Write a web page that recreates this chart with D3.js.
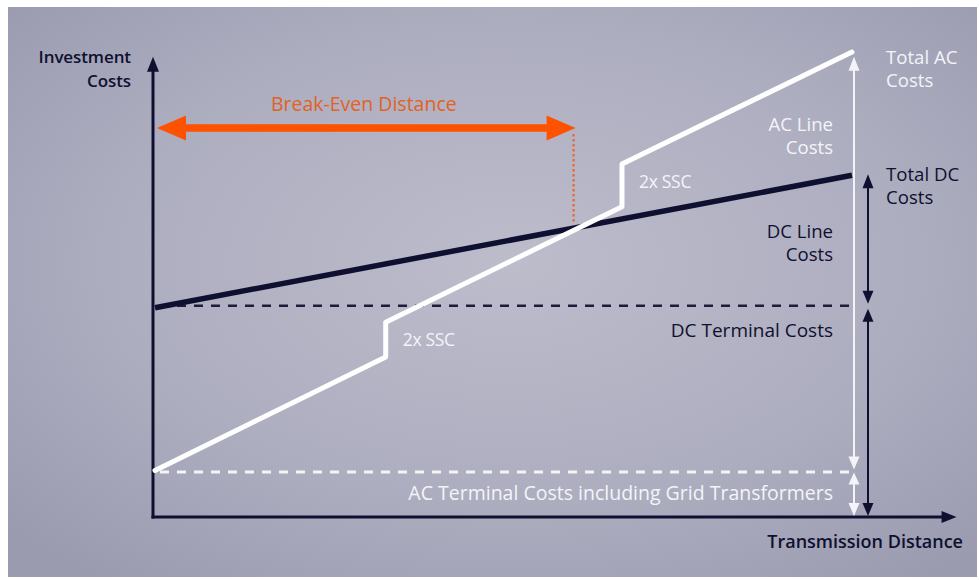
<!DOCTYPE html>
<html>
<head>
<meta charset="utf-8">
<script src="https://cdn.jsdelivr.net/npm/d3@7"></script>
<style>
  html, body { margin: 0; padding: 0; background: #ffffff; }
  svg { display: block; }
  text { font-family: "Open Sans", "DejaVu Sans", sans-serif; }
</style>
</head>
<body>
<svg id="chart" width="979" height="580"></svg>
<script>
// ---------- data (distance 0..100, cost 0..100, relative units) ----------
const acDistance = [0, 33.1, 33.1, 67.0, 67.0, 100];
const acCost     = [10, 34.4, 41.9, 66.7, 75.9, 100];
const dcDistance = [0, 100];
const dcCost     = [45, 73.5];
const acTerminalCost = 10;
const dcTerminalCost = 45;
const breakEvenDistance = 60.2;
const sscSteps = [
  { distance: 33.1, cost: 41.9, label: "2x SSC" },
  { distance: 67.0, cost: 75.9, label: "2x SSC" }
];
const axisLabels = { y: ["Investment", "Costs"], x: "Transmission Distance" };
const breakEvenLabel = "Break-Even Distance";
const rightLabels = {
  totalAC: ["Total AC", "Costs"],
  acLine: ["AC Line", "Costs"],
  totalDC: ["Total DC", "Costs"],
  dcLine: ["DC Line", "Costs"],
  dcTerminal: ["DC Terminal Costs"],
  acTerminal: ["AC Terminal Costs including Grid Transformers"]
};

// ---------- setup ----------
const svg = d3.select("#chart");
const x = d3.scaleLinear().domain([0, 100]).range([155, 852]);
const y = d3.scaleLinear().domain([0, 100]).range([517, 52]);

const WHITE = "#f4f4f8", DARK = "#0f1030", ORANGE = "#ff5200", ORANGE_T = "#e2621f";

const defs = svg.append("defs");
const grad = defs.append("radialGradient").attr("id", "bg")
  .attr("cx", "52%").attr("cy", "45%").attr("r", "70%");
grad.append("stop").attr("offset", "0%").attr("stop-color", "#bcbccb");
grad.append("stop").attr("offset", "60%").attr("stop-color", "#adadc0");
grad.append("stop").attr("offset", "100%").attr("stop-color", "#9b9bb0");

svg.append("rect").attr("x", 8).attr("y", 7).attr("width", 969).attr("height", 570)
  .attr("fill", "url(#bg)");

// arrowhead helper (triangle with tip at (tx,ty))
function head(g, tx, ty, dir, len, half, color) {
  let pts;
  if (dir === "up") pts = [[tx, ty], [tx - half, ty + len], [tx + half, ty + len]];
  else if (dir === "down") pts = [[tx, ty], [tx - half, ty - len], [tx + half, ty - len]];
  else if (dir === "left") pts = [[tx, ty], [tx + len, ty - half], [tx + len, ty + half]];
  else pts = [[tx, ty], [tx - len, ty - half], [tx - len, ty + half]];
  g.append("path").attr("d", "M" + pts.map(p => p.join(",")).join("L") + "Z").attr("fill", color);
}

// ---------- axes ----------
const axisG = svg.append("g");
const x0 = 153, yBase = 517;
const xAxisEnd = x(115), yAxisTop = y(99);
axisG.append("line").attr("x1", x0).attr("y1", yBase + 1.5).attr("x2", x0).attr("y2", yAxisTop + 8)
  .attr("stroke", DARK).attr("stroke-width", 3);
axisG.append("line").attr("x1", x0 - 1.5).attr("y1", yBase).attr("x2", xAxisEnd - 8).attr("y2", yBase)
  .attr("stroke", DARK).attr("stroke-width", 3);
head(axisG, x0, yAxisTop, "up", 15, 6, DARK);
head(axisG, xAxisEnd, yBase, "right", 15, 6, DARK);

// axis labels
axisLabels.y.forEach((t, i) => svg.append("text").attr("text-anchor", "end").attr("fill", DARK)
  .attr("font-size", 17).attr("font-weight", 600).attr("letter-spacing", -0.1)
  .attr("x", 131).attr("y", 63 + i * 24).text(t));
svg.append("text").attr("x", 963).attr("y", 548).attr("text-anchor", "end").attr("fill", DARK)
  .attr("font-size", 18).attr("font-weight", 600).text(axisLabels.x);

// ---------- terminal dashed lines ----------
svg.append("line").attr("x1", x(0) + 5).attr("x2", x(100) + 2)
  .attr("y1", y(dcTerminalCost) - 2).attr("y2", y(dcTerminalCost) - 2)
  .attr("stroke", "#1c1d3a").attr("stroke-width", 2.5).attr("stroke-dasharray", "9,8");
svg.append("line").attr("x1", x(0) + 5).attr("x2", x(100))
  .attr("y1", y(acTerminalCost) + 1.5).attr("y2", y(acTerminalCost) + 1.5)
  .attr("stroke", WHITE).attr("stroke-width", 3).attr("stroke-dasharray", "9,8");

// ---------- break-even ----------
const bx = x(breakEvenDistance);
const dcAtBE = dcCost[0] + (dcCost[1] - dcCost[0]) * breakEvenDistance / 100;
svg.append("line").attr("x1", bx - 1).attr("x2", bx - 1).attr("y1", 134).attr("y2", y(dcAtBE) - 4)
  .attr("stroke", "#e9682c").attr("stroke-width", 2.2).attr("stroke-dasharray", "2.5,2.5");
const beG = svg.append("g");
beG.append("line").attr("x1", x(0) + 25).attr("x2", bx - 25).attr("y1", 128).attr("y2", 128)
  .attr("stroke", ORANGE).attr("stroke-width", 7.5);
head(beG, x(0) + 2, 128, "left", 29, 12.5, ORANGE);
head(beG, bx + 1, 128, "right", 29, 12.5, ORANGE);
svg.append("text").attr("x", (x(0) + bx) / 2 - 1).attr("y", 111).attr("text-anchor", "middle")
  .attr("fill", ORANGE_T).attr("font-size", 19.5).text(breakEvenLabel);

// ---------- cost lines ----------
const lineGen = d3.line().x(d => x(d[0])).y(d => y(d[1]));
svg.append("path").datum(dcDistance.map((d, i) => [d, dcCost[i]]))
  .attr("d", lineGen).attr("fill", "none").attr("stroke", DARK).attr("stroke-width", 5.5);
svg.append("path").datum(acDistance.map((d, i) => [d, acCost[i]]))
  .attr("d", lineGen).attr("fill", "none").attr("stroke", "#ffffff").attr("stroke-width", 5)
  .attr("stroke-linejoin", "round").attr("stroke-linecap", "round");

// SSC labels
svg.selectAll("text.ssc").data(sscSteps).join("text").attr("class", "ssc")
  .attr("x", d => x(d.distance) + 17).attr("y", d => y(d.cost) + 24)
  .attr("fill", WHITE).attr("font-size", 17.5).attr("letter-spacing", -0.3).text(d => d.label);

// ---------- right-hand cost arrows ----------
const wx = 854, dx = 868;
const ag = svg.append("g");
ag.append("line").attr("x1", wx).attr("x2", wx).attr("y1", y(99) + 10).attr("y2", y(acTerminalCost) - 10)
  .attr("stroke", WHITE).attr("stroke-width", 2);
head(ag, wx, y(99), "up", 14, 5.5, WHITE);
head(ag, wx, y(acTerminalCost) - 1, "down", 13, 5.5, WHITE);
ag.append("line").attr("x1", wx).attr("x2", wx).attr("y1", y(acTerminalCost) + 10).attr("y2", yBase - 10)
  .attr("stroke", WHITE).attr("stroke-width", 2);
head(ag, wx, y(acTerminalCost) + 2, "up", 12, 5.5, WHITE);
head(ag, wx, yBase - 1, "down", 13, 5.5, WHITE);
ag.append("line").attr("x1", dx).attr("x2", dx).attr("y1", y(dcCost[1]) + 10).attr("y2", y(dcTerminalCost) - 10)
  .attr("stroke", DARK).attr("stroke-width", 2);
head(ag, dx, y(dcCost[1]) - 1, "up", 14, 5.5, DARK);
head(ag, dx, y(dcTerminalCost) - 4, "down", 13, 5.5, DARK);
ag.append("line").attr("x1", dx).attr("x2", dx).attr("y1", y(dcTerminalCost) + 10).attr("y2", yBase - 10)
  .attr("stroke", DARK).attr("stroke-width", 2);
head(ag, dx, y(dcTerminalCost) + 1, "up", 13, 5.5, DARK);
head(ag, dx, yBase - 1, "down", 13, 5.5, DARK);

// ---------- right-hand labels ----------
function multi(lines, xPos, yPos, anchor, color, lh, fs) {
  lines.forEach((s, i) => svg.append("text").attr("text-anchor", anchor).attr("fill", color)
    .attr("font-size", fs || 18.6).attr("x", xPos).attr("y", yPos + i * lh).text(s));
}
multi(rightLabels.totalAC, 886, 63.5, "start", WHITE, 23);
multi(rightLabels.acLine, 833, 130.5, "end", WHITE, 23);
multi(rightLabels.totalDC, 886, 180.5, "start", DARK, 23);
multi(rightLabels.dcLine, 833, 237.5, "end", DARK, 23);
multi(rightLabels.dcTerminal, 833, 337, "end", DARK, 22, 19);
multi(rightLabels.acTerminal, 833, 500, "end", WHITE, 22, 19.5);
</script>
</body>
</html>
